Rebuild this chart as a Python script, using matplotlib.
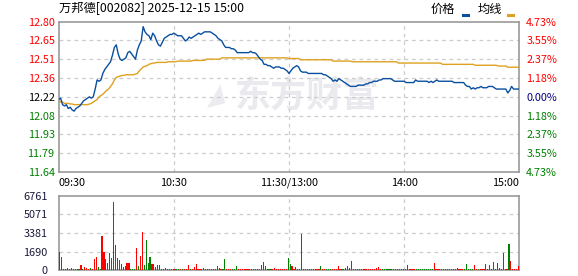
import matplotlib
matplotlib.use("Agg")
import matplotlib.pyplot as plt
from matplotlib.transforms import blended_transform_factory

# ---------------- data ----------------
title = "万邦德[002082] 2025-12-15 15:00"
prev_close = 12.22
price_ticks = ["12.80", "12.65", "12.51", "12.36", "12.22", "12.08", "11.93", "11.79", "11.64"]
pct_ticks = ["4.73%", "3.55%", "2.37%", "1.18%", "0.00%", "1.18%", "2.37%", "3.55%", "4.73%"]
vol_ticks = [0, 1690, 3381, 5071, 6761]
time_labels = ["09:30", "10:30", "11:30/13:00", "14:00", "15:00"]
time_pos = [0, 60, 120, 180, 240]

price = [
    12.20, 12.21, 12.16, 12.15, 12.16, 12.13, 12.14, 12.12, 12.11, 12.13,
    12.14, 12.15, 12.17, 12.19, 12.20, 12.21, 12.22, 12.21, 12.22, 12.28,
    12.35, 12.34, 12.35, 12.40, 12.43, 12.45, 12.47, 12.49, 12.54, 12.60,
    12.62, 12.55, 12.51, 12.50, 12.51, 12.52, 12.56, 12.57, 12.55, 12.53,
    12.51, 12.58, 12.62, 12.65, 12.76, 12.72, 12.70, 12.69, 12.66, 12.71,
    12.69, 12.65, 12.62, 12.61, 12.64, 12.67, 12.68, 12.69, 12.70, 12.70,
    12.71, 12.70, 12.69, 12.69, 12.69, 12.67, 12.65, 12.66, 12.68, 12.67,
    12.68, 12.69, 12.70, 12.71, 12.70, 12.71, 12.72, 12.72, 12.72, 12.72,
    12.71, 12.70, 12.69, 12.67, 12.66, 12.65, 12.62, 12.60, 12.60, 12.60,
    12.59, 12.59, 12.58, 12.56, 12.56, 12.56, 12.56, 12.56, 12.56, 12.56,
    12.57, 12.56, 12.56, 12.55, 12.53, 12.51, 12.50, 12.47, 12.47, 12.46,
    12.46, 12.45, 12.44, 12.45, 12.45, 12.45, 12.44, 12.44, 12.43, 12.42,
    12.40, 12.42, 12.44, 12.45, 12.46, 12.45, 12.42, 12.41, 12.41, 12.41,
    12.40, 12.40, 12.40, 12.40, 12.40, 12.40, 12.40, 12.40, 12.39, 12.39,
    12.38, 12.37, 12.36, 12.34, 12.35, 12.34, 12.36, 12.35, 12.34, 12.33,
    12.32, 12.31, 12.30, 12.30, 12.30, 12.30, 12.31, 12.31, 12.31, 12.31,
    12.32, 12.32, 12.33, 12.33, 12.34, 12.34, 12.34, 12.35, 12.35, 12.36,
    12.36, 12.36, 12.36, 12.36, 12.35, 12.34, 12.34, 12.34, 12.34, 12.34,
    12.34, 12.33, 12.33, 12.33, 12.33, 12.33, 12.35, 12.34, 12.34, 12.34,
    12.34, 12.34, 12.34, 12.33, 12.34, 12.33, 12.34, 12.35, 12.34, 12.34,
    12.34, 12.34, 12.34, 12.34, 12.34, 12.34, 12.33, 12.33, 12.33, 12.33,
    12.33, 12.33, 12.31, 12.30, 12.30, 12.28, 12.29, 12.28, 12.29, 12.29,
    12.30, 12.29, 12.29, 12.29, 12.30, 12.30, 12.30, 12.29, 12.28, 12.28,
    12.28, 12.28, 12.28, 12.28, 12.25, 12.27, 12.30, 12.28, 12.28, 12.28,
    12.28,
]

avg = [
    12.19, 12.18, 12.18, 12.17, 12.17, 12.17, 12.165, 12.165, 12.16, 12.16,
    12.16, 12.16, 12.16, 12.16, 12.16, 12.16, 12.165, 12.17, 12.18, 12.19,
    12.20, 12.22, 12.23, 12.24, 12.255, 12.27, 12.28, 12.30, 12.32, 12.35,
    12.37, 12.375, 12.38, 12.385, 12.385, 12.39, 12.39, 12.39, 12.39, 12.39,
    12.395, 12.40, 12.42, 12.435, 12.45, 12.455, 12.46, 12.47, 12.475, 12.48,
    12.48, 12.485, 12.485, 12.485, 12.485, 12.485, 12.485, 12.49, 12.49, 12.49,
    12.49, 12.49, 12.495, 12.495, 12.495, 12.495, 12.495, 12.495, 12.495, 12.495,
    12.50, 12.50, 12.50, 12.50, 12.50, 12.50, 12.50, 12.51, 12.51, 12.51,
    12.51, 12.51, 12.51, 12.51, 12.51, 12.52, 12.52, 12.52, 12.52, 12.52,
    12.52, 12.52, 12.52, 12.52, 12.52, 12.52, 12.52, 12.52, 12.52, 12.52,
    12.52, 12.52, 12.52, 12.52, 12.52, 12.52, 12.52, 12.52, 12.52, 12.52,
    12.52, 12.52, 12.52, 12.52, 12.52, 12.52, 12.52, 12.52, 12.52, 12.52,
    12.515, 12.515, 12.515, 12.515, 12.515, 12.515, 12.505, 12.505, 12.505, 12.505,
    12.505, 12.505, 12.505, 12.505, 12.505, 12.505, 12.505, 12.505, 12.505, 12.505,
    12.505, 12.505, 12.505, 12.495, 12.495, 12.495, 12.495, 12.495, 12.495, 12.495,
    12.495, 12.495, 12.495, 12.49, 12.49, 12.49, 12.49, 12.49, 12.49, 12.49,
    12.49, 12.49, 12.49, 12.49, 12.49, 12.49, 12.49, 12.49, 12.49, 12.49,
    12.49, 12.49, 12.49, 12.49, 12.49, 12.49, 12.49, 12.48, 12.48, 12.48,
    12.48, 12.48, 12.48, 12.48, 12.48, 12.48, 12.48, 12.48, 12.48, 12.48,
    12.48, 12.48, 12.48, 12.48, 12.48, 12.48, 12.48, 12.48, 12.48, 12.48,
    12.47, 12.47, 12.47, 12.47, 12.47, 12.47, 12.47, 12.47, 12.47, 12.47,
    12.47, 12.47, 12.47, 12.47, 12.47, 12.47, 12.47, 12.463, 12.463, 12.463,
    12.463, 12.463, 12.463, 12.463, 12.463, 12.463, 12.463, 12.463, 12.463, 12.457,
    12.457, 12.457, 12.457, 12.457, 12.448, 12.448, 12.448, 12.448, 12.448, 12.448,
    12.448,
]

volume = [
    1612, 1147, 60, 60, 190, 60, 190, 100, 60, 60,
    60, 465, 60, 280, 190, 130, 190, 60, 1023, 1209,
    280, 60, 3100, 1674, 1023, 651, 1581, 1116, 6231, 2325,
    1116, 930, 560, 280, 370, 650, 650, 100, 60, 100,
    2046, 370, 1302, 3441, 465, 2697, 651, 1209, 560, 560,
    280, 465, 465, 100, 100, 190, 60, 60, 60, 60,
    130, 130, 60, 60, 60, 60, 60, 465, 60, 60,
    280, 560, 60, 60, 60, 190, 100, 60, 60, 60,
    60, 60, 370, 190, 60, 60, 1023, 60, 60, 100,
    60, 60, 370, 60, 60, 60, 60, 60, 60, 60,
    60, 60, 60, 60, 60, 465, 744, 370, 60, 60,
    60, 60, 190, 60, 60, 60, 60, 60, 60, 1054,
    560, 370, 60, 280, 60, 60, 3255, 60, 60, 60,
    60, 60, 60, 60, 60, 60, 370, 60, 60, 60,
    60, 60, 60, 60, 60, 370, 60, 60, 100, 190,
    370, 190, 840, 100, 60, 100, 60, 100, 60, 60,
    60, 60, 60, 60, 100, 190, 280, 60, 60, 60,
    60, 60, 60, 60, 60, 60, 60, 60, 60, 60,
    60, 465, 60, 60, 100, 100, 60, 60, 60, 60,
    60, 60, 60, 60, 60, 650, 60, 60, 60, 60,
    60, 60, 60, 60, 60, 60, 100, 190, 100, 60,
    60, 60, 560, 60, 60, 100, 465, 60, 100, 60,
    60, 60, 560, 60, 465, 60, 744, 100, 650, 190,
    60, 1581, 60, 100, 2418, 840, 60, 60, 60, 370,
]

vol_dir = ("ggrgrrrgrr" "grgrrrgrrr" "ggrrrrrgrr" "grgrrrrggg" "rgrrggggrr"
           "gggrrrrrgr" "rggrgrrrgr" "rrrrrrrggg" "ggrgrggrrr" "gggrrrrrrr"
           "rrrrgggggg" "grrrrrrrrg" "grrrrrgrrr" "rrrrrrgrrg" "ggrrrrrggg"
           "ggrrrrrrrr" "rrrrrrrrgg" "ggggrrrrrg" "grrrrrgggg" "gggggrrrrr"
           "rgggrrrrrr" "rgggggrrgr" "rrrrrrrgrr" "ggrrgrrrrr")

# ---------------- style ----------------
RED = "#ff0000"
GREEN = "#008000"
NAVY = "#000080"
PRICE_C = "#0a4f9e"
AVG_C = "#e0a020"
GRID_C = "#cccccc"
FRAME_C = "#999999"
FONT = ["Noto Sans CJK SC", "DejaVu Sans"]

W, H = 578, 276
fig = plt.figure(figsize=(W / 100, H / 100), dpi=100)

def fx(px):
    return px / W

def fy(py):
    return 1 - py / H

L, R = 58.7, 519.3
ax = fig.add_axes([fx(L), fy(172), fx(R) - fx(L), fy(21.7) - fy(172)])
axv = fig.add_axes([fx(L), fy(270), fx(R) - fx(L), fy(196) - fy(270)])

span = 0.0473 * prev_close
lo, hi = prev_close - span, prev_close + span
n_t = len(price_ticks)
tick_vals = [hi - i * (hi - lo) / (n_t - 1) for i in range(n_t)]

for a in (ax, axv):
    for s in a.spines.values():
        s.set_color(FRAME_C)
        s.set_linewidth(1.2)
    a.tick_params(length=0)
    a.set_xlim(0, 240)
    a.set_xticks([])

# watermark
ax.text(fx(307), fy(96), "东方财富", transform=fig.transFigure, ha="center", va="center",
        fontsize=26, fontweight="bold", color="#e9e9ee", family=FONT, zorder=0)
ax.text(fx(214), fy(96), "◢", transform=fig.transFigure, ha="center", va="center",
        fontsize=18, color="#ececf0", family=["DejaVu Sans"], zorder=0, rotation=15)

# grids
for v in tick_vals[1:-1]:
    ax.axhline(v, color=GRID_C, lw=0.9, ls=(0, (3, 3)), zorder=1)
for t in time_pos[1:-1]:
    ax.axvline(t, color=GRID_C, lw=0.9, ls=(0, (3, 3)), zorder=1)
    axv.axvline(t, color=GRID_C, lw=0.9, ls=(0, (3, 3)), zorder=1)
for v in vol_ticks[1:-1]:
    axv.axhline(v, color=GRID_C, lw=0.9, ls=(0, (3, 3)), zorder=1)

# lines
minutes = list(range(len(price)))
ax.plot(minutes, avg, color=AVG_C, lw=1.0, zorder=3)
ax.plot(minutes, price, color=PRICE_C, lw=1.0, zorder=4)
ax.set_ylim(lo, hi)

# y tick labels (left price)
ax.set_yticks(tick_vals)
ax.set_yticklabels(price_ticks, fontsize=7.8, family=FONT)
ax.tick_params(axis="y", pad=3)
for i, lab in enumerate(ax.get_yticklabels()):
    lab.set_color(RED if i < 4 else ("#000000" if i == 4 else GREEN))

# right percent labels
ax2 = ax.twinx()
ax2.set_ylim(lo, hi)
ax2.set_yticks(tick_vals)
ax2.set_yticklabels(pct_ticks, fontsize=7.8, family=FONT)
ax2.tick_params(length=0, pad=5)
for s in ax2.spines.values():
    s.set_visible(False)
for i, lab in enumerate(ax2.get_yticklabels()):
    lab.set_color(RED if i < 4 else (NAVY if i == 4 else GREEN))

# time labels
tr = blended_transform_factory(ax.transData, fig.transFigure)
for i, (t, lab) in enumerate(zip(time_pos, time_labels)):
    ha = "left" if i == 0 else ("right" if i == len(time_pos) - 1 else "center")
    ax.text(t, fy(182.5), lab, transform=tr, ha=ha, va="center", fontsize=7.8,
            family=FONT, color="#000000")

# volume bars
bar_x = [i + 0.6 for i in range(len(volume))]
bar_c = [RED if d == "r" else GREEN for d in vol_dir]
axv.bar(bar_x, volume, width=0.6, color=bar_c, linewidth=0, zorder=3)
axv.set_ylim(0, vol_ticks[-1])
axv.set_yticks(vol_ticks)
axv.set_yticklabels([str(v) for v in vol_ticks], fontsize=7.8, family=FONT,
                    color="#1a1a3a")
axv.tick_params(axis="y", pad=8)

# title and legend
fig.text(fx(59), fy(9), title, ha="left", va="center", fontsize=8.8,
         family=FONT, color="#000000")
fig.text(fx(431), fy(9), "价格", ha="left", va="center", fontsize=8.8,
         family=FONT, color="#000000")
fig.lines.append(plt.Line2D([fx(463), fx(468)], [fy(15), fy(15)], transform=fig.transFigure,
                            color=PRICE_C, lw=2.2))
fig.text(fx(478), fy(9), "均线", ha="left", va="center", fontsize=8.8,
         family=FONT, color="#000000")
fig.lines.append(plt.Line2D([fx(508), fx(513)], [fy(15), fy(15)], transform=fig.transFigure,
                            color=AVG_C, lw=2.2))

fig.savefig("out.png", dpi=100)
